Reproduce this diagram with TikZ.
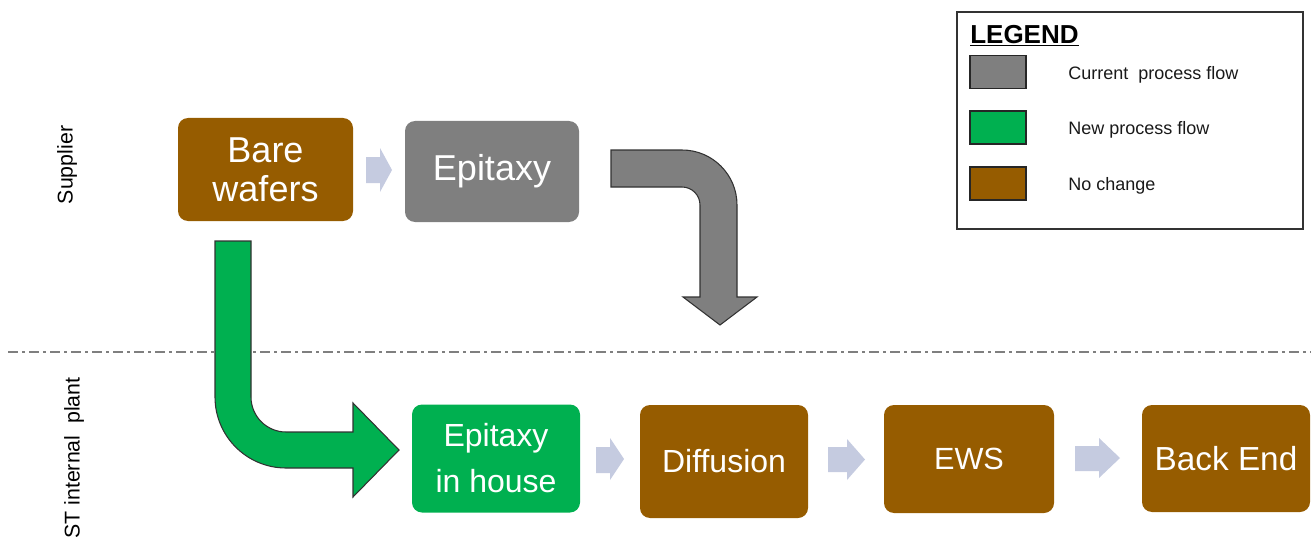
\documentclass[tikz,border=0pt]{standalone}
\usepackage{fontspec}
\setmainfont{Liberation Sans}
\definecolor{brownc}{RGB}{150,92,0}
\definecolor{grayc}{RGB}{127,127,127}
\definecolor{greenc}{RGB}{0,176,80}
\definecolor{chevc}{RGB}{197,203,224}
\definecolor{edgec}{RGB}{50,50,50}
\begin{document}
\begin{tikzpicture}[x=0.75pt,y=-0.75pt,
  box/.style={rounded corners=7.5pt, inner sep=0pt, text=white, align=center},
  bigtxt/.style={font=\fontsize{27}{29}\selectfont},
  midtxt/.style={font=\fontsize{24}{34.5}\selectfont},
  chev/.style={fill=chevc},
  bent/.style={draw=edgec, line width=0.8pt, line join=miter},
  swatch/.style={draw=black!85, line width=0.9pt, inner sep=0pt,
                 minimum width=56*0.75pt, minimum height=33*0.75pt},
  legtxt/.style={anchor=west, inner sep=0pt, font=\fontsize{13.5}{16}\selectfont, text=black!90},
  side/.style={rotate=90, inner sep=0pt, font=\fontsize{16}{19}\selectfont}]
\useasboundingbox (0,0) rectangle (1311,542);

% boundary between supplier and internal plant
\draw[grayc, line width=1.1pt, dash pattern=on 7.5pt off 3pt on 2.25pt off 3pt]
  (8,352) -- (1311,352);

% side labels
\node[side] (supplier) at (67,165) {Supplier};
\node[side] (plant) at (74,458) {ST internal\ \ plant};

% process steps
\node[box, bigtxt, fill=brownc, minimum width=175*0.75pt, minimum height=103*0.75pt]
  (bare) at (265.5,169.5) {Bare\\wafers};
\node[box, bigtxt, fill=grayc, minimum width=174*0.75pt, minimum height=101*0.75pt]
  (epi) at (492,171.5) {Epitaxy};
\node[box, midtxt, fill=greenc, minimum width=168*0.75pt, minimum height=108*0.75pt]
  (epih) at (496,458.5) {Epitaxy\\in house};
\node[box, midtxt, fill=brownc, minimum width=168*0.75pt, minimum height=113*0.75pt]
  (diff) at (724,461.5) {Diffusion};
\node[box, font=\fontsize{23}{28}\selectfont, fill=brownc, minimum width=170*0.75pt, minimum height=108*0.75pt]
  (ews) at (969,459) {EWS};
\node[box, font=\fontsize{25}{30}\selectfont, fill=brownc, minimum width=168*0.75pt, minimum height=107*0.75pt]
  (back) at (1226,458.5) {Back End};

% small step arrows
\fill[chev] (366,157) -- (380,157) -- (380,148) -- (392,170) -- (380,192) -- (380,183) -- (366,183) -- cycle;
\fill[chev] (596,447) -- (610,447) -- (610,438) -- (624,459) -- (610,480) -- (610,473) -- (596,473) -- cycle;
\fill[chev] (828,447) -- (847,447) -- (847,439) -- (865,459.5) -- (847,480) -- (847,472) -- (828,472) -- cycle;
\fill[chev] (1075,446) -- (1099,446) -- (1099,438) -- (1120,458) -- (1099,478) -- (1099,471) -- (1075,471) -- cycle;

% current flow: epitaxy at the supplier, then down to the plant
\filldraw[bent, fill=grayc]
  (611,150) -- (682,150) .. controls (712.4,150) and (737,174.6) .. (737,205)
  -- (737,297) -- (757,297) -- (720,325) -- (683,297) -- (700,297) -- (700,205)
  .. controls (700,195.06) and (691.94,187) .. (682,187) -- (611,187) -- cycle;

% new flow: bare wafers straight into the in-house epitaxy
\filldraw[bent, fill=greenc]
  (215,241) -- (251,241) -- (251,397)
  .. controls (251,416.3) and (266.7,432) .. (286,432)
  -- (353,432) -- (353,403) -- (399,450) -- (353,497) -- (353,468) -- (286,468)
  .. controls (246.8,468) and (215,436.2) .. (215,397) -- cycle;

% legend
\node[draw=black!80, line width=1.1pt, minimum width=346*0.75pt, minimum height=217*0.75pt, inner sep=0pt]
  (legend) at (1130,120.5) {};
\node[anchor=west, inner sep=0pt, font=\fontsize{19.5}{22}\selectfont\bfseries]
  (legtitle) at (970,36) {\underline{LEGEND}};
\node[swatch, fill=grayc] (sw1) at (998,72) {};
\node[swatch, fill=greenc] (sw2) at (998,127.5) {};
\node[swatch, fill=brownc] (sw3) at (998,183.5) {};
\node[legtxt] (lt1) at (1068,74.5) {Current\ \ process flow};
\node[legtxt] (lt2) at (1068,129.5) {New process flow};
\node[legtxt] (lt3) at (1068,185.5) {No change};
\end{tikzpicture}
\end{document}
